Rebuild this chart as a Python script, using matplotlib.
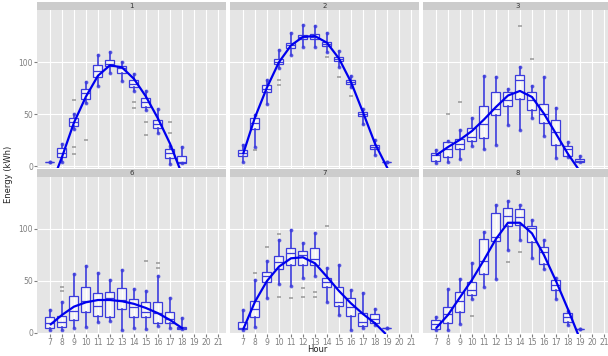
import matplotlib
matplotlib.use("Agg")
import matplotlib.pyplot as plt

# facet labels
panels = ["1", "2", "3", "6", "7", "8"]

# box stats per hour: (whisker low, q1, median, q3, whisker high)
hours_1 = list(range(7, 19))
stats_1 = [(4, 4, 4, 4, 4), (4, 9, 12.8, 17.6, 21.8), (36, 38.8, 42.6, 46.8, 50.6),
           (61, 65, 70, 74.7, 81), (77, 85.3, 91.7, 96.8, 107), (90, 96, 98.7, 102, 110),
           (82, 89.7, 94, 96.4, 100), (72.4, 76.3, 79.5, 82.7, 89), (54, 57, 61.8, 65.7, 72),
           (32, 37, 41, 45, 55.4), (2.6, 8.3, 12.8, 17, 20), (3, 3.2, 4, 9.6, 18.6)]
out_1 = [(9, 63.5), (9, 19), (9, 12), (10, 25), (14, 61.8), (14, 56.4),
         (15, 43), (15, 30), (17, 43), (17, 32)]
curve_x_1 = [7.6, 8, 9, 10, 11, 12, 13, 14, 15, 16, 17, 17.85]
curve_y_1 = [-3, 9, 42, 67, 87, 97, 95, 84, 67, 46, 22, -3]

hours_2 = list(range(7, 20))
stats_2 = [(4, 10, 12.8, 16, 21), (18.6, 36, 41.7, 46.8, 49), (59.6, 71.5, 74.7, 78, 83.3),
           (94, 98.7, 100.6, 102.6, 112), (106.7, 114, 116, 118.6, 127.6),
           (115, 121.8, 123.7, 126, 135.6), (114.7, 122.4, 124.3, 126.6, 134.6),
           (110, 115.4, 117.6, 119.5, 127.6), (95.5, 100.7, 102.6, 104.5, 110.9),
           (75.7, 78.8, 80.8, 82.7, 86.5), (41, 48.4, 50.3, 52.2, 55.4),
           (10.6, 16.7, 18.8, 21, 25), (4, 4, 4, 4, 4)]
out_2 = [(8, 16), (10, 82.7), (10, 78), (14, 105), (15, 85.3), (16, 68)]
curve_x_2 = [7, 8, 9, 10, 11, 12, 13, 14, 15, 16, 17, 18, 19.1]
curve_y_2 = [11.5, 47, 75.7, 100, 116, 124.3, 125, 118.6, 103.5, 81, 52, 22, -3]

hours_3 = list(range(7, 20))
stats_3 = [(3.5, 4.8, 10.6, 12.8, 16), (4, 9, 16.3, 23.4, 24), (7.4, 16.3, 21.8, 26.6, 34.6),
           (19.5, 24.4, 28.2, 37.2, 46.8), (17, 27.2, 40.4, 58.3, 87.2), (21, 49, 55, 71.5, 86),
           (39.4, 57.7, 63.5, 71.5, 74), (34.6, 65, 83.3, 87.5, 95.5), (46, 54.5, 63.5, 71.5, 77),
           (28.8, 41.7, 50.6, 60.3, 86), (8.3, 20.8, 33, 44.2, 56.4), (9, 9.6, 17, 19.5, 23.4),
           (4, 4, 5.4, 6.7, 9.6)]
out_3 = [(8, 50.6), (9, 61.8), (14, 134.6), (15, 103.5)]
curve_x_3 = [7, 8, 9, 10, 11, 12, 13, 14, 15, 16, 17, 18, 18.9]
curve_y_3 = [10.6, 18.6, 25.6, 34, 45, 57, 68, 72.4, 66.6, 50.6, 31.4, 12, -3]

hours_6 = list(range(7, 19))
stats_6 = [(2.9, 4.5, 9.3, 15.7, 22), (2.9, 6.1, 10.9, 16.3, 30), (4.5, 12.5, 21, 35.6, 56.4),
           (6, 20.5, 31, 44.5, 64.7), (10.9, 16.7, 26, 38.8, 58), (11.5, 15.7, 34, 39.7, 51),
           (2.9, 23, 31.7, 43.6, 60.6), (5.1, 15, 25.3, 32.7, 42.3), (3.8, 15, 20.5, 30, 40.4),
           (7, 9.3, 18.9, 30, 54.8), (4.5, 9.3, 13.1, 20.5, 34), (3.5, 3.5, 4.8, 6.1, 14.1)]
out_6 = [(8, 44.5), (8, 40.4), (15, 69), (16, 67.6), (16, 62.8)]
curve_x_6 = [7, 8, 9, 10, 11, 12, 13, 14, 15, 16, 17, 18.1]
curve_y_6 = [7.7, 17.3, 25.3, 29.5, 31.7, 31.7, 30.5, 28, 24, 19, 12.5, 4]

hours_7 = list(range(7, 20))
stats_7 = [(2.9, 3.5, 4.5, 10.9, 22), (6, 15, 23, 30.8, 51), (33.3, 48.7, 55, 59, 69),
           (46.8, 61.5, 68, 74.4, 89.4), (45.5, 65.4, 76.6, 82, 99), (52.6, 65.4, 75, 79, 87),
           (54.8, 65.4, 71.2, 81.4, 95.8), (29.5, 43.9, 49.4, 53.2, 62.2),
           (17.3, 26, 30, 44.5, 65.4), (2.9, 16.3, 25.3, 33.4, 41.3), (4.5, 6.7, 10.9, 19, 38.1),
           (8, 9.3, 13.5, 18, 22.8), (5.1, 5.1, 5.1, 5.1, 5.1)]
out_7 = [(8, 58), (9, 83), (10, 95), (10, 35), (11, 33.3), (12, 43.6), (12, 34.3),
         (13, 39), (13, 35), (14, 103)]
curve_x_7 = [7, 8, 9, 10, 11, 12, 13, 14, 15, 16, 17, 18, 18.9]
curve_y_7 = [3, 30, 50, 63.8, 71.8, 72.8, 67, 54, 40.4, 28.5, 18.3, 9.3, -1]

hours_8 = list(range(7, 20))
stats_8 = [(2.9, 3.8, 8.3, 12.5, 15.7), (2.9, 9.9, 18, 25.3, 42.3), (8.3, 20.5, 31, 39.1, 52),
           (32.4, 36.5, 41.3, 48.7, 67.6), (44.5, 56.7, 69.2, 90.4, 96.8),
           (51.6, 88.8, 92.6, 115.7, 123), (79.8, 103, 112.5, 120.5, 127),
           (89.4, 103.8, 111.9, 118.9, 123), (72.4, 87.2, 100.6, 103.2, 108.7),
           (61.5, 66, 77.6, 82.4, 89.4), (32.4, 41.3, 46.2, 51, 53.2),
           (7.7, 10.3, 15.4, 18.9, 21.2), (3.8, 3.8, 3.8, 3.8, 3.8)]
out_8 = [(10, 16.7), (13, 68.6), (14, 77.6)]
curve_x_8 = [7, 8, 9, 10, 11, 12, 13, 14, 15, 16, 17, 18, 18.9]
curve_y_8 = [4.5, 17.3, 34.3, 51, 70.2, 90.4, 106, 106, 95.8, 75, 50, 22.8, -3]

x_ticks = list(range(7, 22))
y_ticks = [0, 50, 100]

data = [
    (hours_1, stats_1, out_1, curve_x_1, curve_y_1),
    (hours_2, stats_2, out_2, curve_x_2, curve_y_2),
    (hours_3, stats_3, out_3, curve_x_3, curve_y_3),
    (hours_6, stats_6, out_6, curve_x_6, curve_y_6),
    (hours_7, stats_7, out_7, curve_x_7, curve_y_7),
    (hours_8, stats_8, out_8, curve_x_8, curve_y_8),
]

BOX = "#3b3bdc"
LINE = "#0000ee"
W, H = 608, 356

fig = plt.figure(figsize=(W / 100, H / 100), dpi=100)
fig.patch.set_facecolor("white")

col_left = [37, 230, 423]
pw = 189
rows = [(10, 167.5, 2), (177, 334, 168.5)]  # panel top, panel bottom, strip top (px)

for i, (hours, stats, outs, cx, cy) in enumerate(data):
    r, c = divmod(i, 3)
    top, bot, stop = rows[r]
    left = col_left[c]
    ax = fig.add_axes([left / W, 1 - bot / H, pw / W, (bot - top) / H])
    ax.set_facecolor("#e5e5e5")
    for s in ax.spines.values():
        s.set_visible(False)

    bxstats = [dict(whislo=s[0], q1=s[1], med=s[2], q3=s[3], whishi=s[4]) for s in stats]
    ax.bxp(bxstats, positions=hours, widths=0.75, showfliers=False, showcaps=False,
           patch_artist=True, manage_ticks=False,
           boxprops=dict(facecolor=(1, 1, 1, 0.6), edgecolor=BOX, linewidth=0.9),
           medianprops=dict(color=BOX, linewidth=0.9),
           whiskerprops=dict(color=BOX, linewidth=1.2))
    # whisker end points
    ax.plot(hours, [s[0] for s in stats], "o", color=BOX, ms=1.8, alpha=0.7, zorder=4)
    ax.plot(hours, [s[4] for s in stats], "o", color=BOX, ms=1.8, alpha=0.7, zorder=4)
    if outs:
        ax.plot([o[0] for o in outs], [o[1] for o in outs], "_", color="#8a8a8a",
                ms=3, mew=1.2, alpha=0.8, zorder=4)
    ax.plot(cx, cy, color=LINE, lw=1.6, zorder=5, solid_capstyle="butt")

    ax.set_xlim(5.92, 21.67)
    ax.set_ylim(-1, 150)
    ax.set_xticks(x_ticks)
    ax.set_yticks(y_ticks)
    ax.grid(True, color="white", lw=0.8)
    ax.set_axisbelow(True)
    ax.tick_params(length=2, color="#7f7f7f", labelcolor="#7f7f7f", labelsize=5.5, pad=0.8)
    if r == 0:
        ax.tick_params(axis="x", length=0, labelbottom=False)
    if c != 0:
        ax.tick_params(axis="y", length=0, labelleft=False)

    # facet strip
    sax = fig.add_axes([left / W, 1 - top / H, pw / W, (top - stop) / H])
    sax.set_facecolor("#cccccc")
    sax.set_xticks([])
    sax.set_yticks([])
    for s in sax.spines.values():
        s.set_visible(False)
    sax.text(0.5, 0.5, panels[i], ha="center", va="center", fontsize=5, color="#333333",
             transform=sax.transAxes)

fig.text(9 / W, 1 - 174 / H, "Energy (kWh)", rotation=90, ha="center", va="center",
         fontsize=6, color="#222222")
fig.text(317 / W, 1 - 352.5 / H, "Hour", ha="center", va="baseline", fontsize=6,
         color="#222222")

fig.savefig("out.png", dpi=100)
